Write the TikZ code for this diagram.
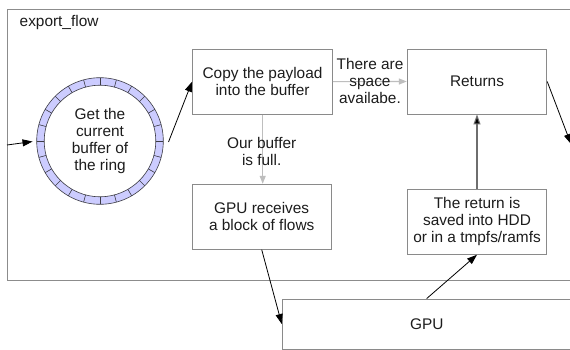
\documentclass[tikz,border=0pt]{standalone}
\usepackage{fontspec}
\setmainfont{Liberation Sans}
\usetikzlibrary{arrows.meta,calc}
\definecolor{boxgray}{HTML}{8A8A8A}
\definecolor{framegray}{HTML}{8C8C8C}
\definecolor{lightarrow}{HTML}{BEBEBE}
\definecolor{darkline}{HTML}{6E6E6E}
\definecolor{txt}{HTML}{1C1C1C}
\definecolor{ringfill}{HTML}{CCCCFF}
\definecolor{ringline}{HTML}{3C3C44}
\newcommand{\myfs}{\fontsize{15.4}{17}\selectfont}
\begin{document}
\begin{tikzpicture}[x=1pt,y=-1pt,
  box/.style={draw=boxgray, line width=0.9pt, minimum width=140pt, minimum height=65pt,
    align=center, inner sep=0pt, font=\myfs, text=txt},
  lbl/.style={align=center, inner sep=0pt, font=\myfs, text=txt},
  blk/.style={draw=black, line width=0.8pt, -{Triangle[length=10pt,width=7pt]}},
  lgt/.style={draw=lightarrow, line width=1.1pt, -{Triangle[length=8pt,width=6pt,fill=lightarrow]}},
  drk/.style={draw=darkline, line width=1.1pt, -{Triangle[length=10pt,width=7pt,fill=black]}}]
\useasboundingbox (0,0) rectangle (570,350);
\clip (0,0) rectangle (570,350);
\fill[white] (0,0) rectangle (570,350);

% frame
\draw[framegray, line width=0.9pt] (7,9) rectangle (590,280);
\node[lbl, anchor=base west] (title) at (19.5,27) {export\_flow};

% ring
\fill[ringfill, even odd rule] (100,141) circle (63.3) (100,141) circle (55.8);
\draw[ringline, line width=0.6pt] (100,141) circle (63.3) (100,141) circle (55.8);
\foreach \a in {0,15,...,345}
  \draw[ringline, line width=0.6pt] ($(100,141)+(\a:55.8)$) -- ($(100,141)+(\a:63.3)$);
\node[lbl, circle, minimum size=126.6pt] (ring) at (100,141) {Get the\\current\\buffer of\\the ring};

% boxes
\node[box] (copy) at (262.5,81.7) {Copy the payload\\into the buffer};
\node[box, minimum width=139.5pt] (returns) at (477,81.5) {Returns};
\node[box, minimum width=139pt] (recv) at (261.7,216.7) {GPU receives\\a block of flows};
\node[box, minimum width=139.5pt] (saved) at (477,221.8) {The return is\\saved into HDD\\or in a tmpfs/ramfs};
\node[box, minimum width=289pt, minimum height=50pt] (gpu) at (426.7,324) {GPU};

% free ends
\coordinate (in) at (7,145);
\coordinate (out) at (571,144);

% connectors
\draw[blk, shorten >=4pt] (in) -- (ring.west);
\draw[blk] ([xshift=5pt,yshift=-1pt]ring.east) -- (copy.west);
\draw[lgt] (copy.east) -- (returns.west);
\node[lbl] (lab1) at (370,80.5) {There are\\space\\availabe.};
\draw[lgt] (copy.south -| 262.7,0) -- (recv.north -| 262.7,0);
\node[lbl] (lab2) at (261.7,151) {Our buffer\\is full.};
\draw[blk] (recv.south) -- (gpu.west);
\draw[blk] (gpu.north) -- (saved.south);
\draw[drk] (saved.north) -- (returns.south);
\draw[blk] (returns.east) -- (out);
\end{tikzpicture}
\end{document}
